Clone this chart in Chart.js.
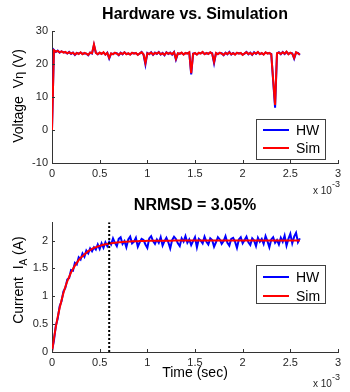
<!DOCTYPE html>
<html><head><meta charset="utf-8">
<script src="https://cdn.jsdelivr.net/npm/chart.js@4.4.1/dist/chart.umd.min.js"></script>
<style>
html,body{margin:0;padding:0;background:#fff;}
#wrap{position:relative;width:350px;height:392px;overflow:hidden;background:#fff;}
canvas{position:absolute;left:0;}
#c1{top:0;}
#c2{top:190px;}
</style></head><body>
<div id="wrap"><canvas id="c1" width="350" height="200"></canvas><canvas id="c2" width="350" height="202"></canvas></div>
<script>
// ---------- data (time in units of 1e-3 s) ----------
const timeMs = [
0,0.02,0.04,0.06,0.08,0.1,0.12,0.14,0.16,0.18,
0.2,0.22,0.24,0.26,0.28,0.3,0.32,0.34,0.36,0.38,
0.4,0.42,0.44,0.46,0.48,0.5,0.52,0.54,0.56,0.58,
0.6,0.62,0.64,0.66,0.68,0.7,0.72,0.74,0.76,0.78,
0.8,0.82,0.84,0.86,0.88,0.9,0.92,0.94,0.96,0.98,
1.0,1.02,1.04,1.06,1.08,1.1,1.12,1.14,1.16,1.18,
1.2,1.22,1.24,1.26,1.28,1.3,1.32,1.34,1.36,1.38,
1.4,1.42,1.44,1.46,1.48,1.5,1.52,1.54,1.56,1.58,
1.6,1.62,1.64,1.66,1.68,1.7,1.72,1.74,1.76,1.78,
1.8,1.82,1.84,1.86,1.88,1.9,1.92,1.94,1.96,1.98,
2.0,2.02,2.04,2.06,2.08,2.1,2.12,2.14,2.16,2.18,
2.2,2.22,2.24,2.26,2.28,2.3,2.32,2.34,2.36,2.38,
2.4,2.42,2.44,2.46,2.48,2.5,2.52,2.54,2.56,2.58,
2.6];

const voltageSim = [0,
24.2,23.8,24.0,23.6,23.9, 23.5,23.7,23.3,23.6,23.2, 23.5,22.9,23.4,23.1,23.6, 23.0,23.4,23.2,22.8,23.5,
23.3,26.0,23.4,23.0,23.5, 23.1,23.6,22.9,23.4,21.9, 23.3,23.0,23.5,23.2,22.8, 23.4,23.1,23.6,23.0,23.3,
22.9,23.5,23.2,23.4,22.8, 23.3,23.6,23.0,20.4,23.3, 23.1,23.5,22.9,23.4,23.2, 23.6,23.0,23.3,22.8,23.5,
23.2,23.4,23.0,23.6,21.6, 23.3,23.1,23.5,22.9,23.4, 23.2,23.6,17.3,23.1,23.4, 22.9,23.5,23.2,23.7,23.0,
23.4,23.1,23.6,23.2,20.7, 23.4,23.0,23.5,23.2,22.8, 23.4,23.1,23.6,23.0,23.3, 22.9,23.5,23.2,23.4,22.8,
23.3,23.6,23.1,23.4,22.9, 23.5,23.2,23.7,23.0,23.4, 22.9,23.6,23.2,23.4,23.0, 15.2,7.6,23.3,23.5,23.1,
23.6,23.2,23.8,23.0,23.5, 23.2,21.9,23.6,23.3,22.9];

const voltageHW = [0,
24.3,23.7,24.1,23.5,23.9, 23.6,23.6,23.2,23.7,23.1, 23.5,22.8,23.4,23.2,23.5, 23.1,23.3,23.2,22.7,23.5,
23.2,25.8,23.5,23.0,23.4, 23.2,23.5,22.9,23.5,21.7, 23.2,23.1,23.4,23.3,22.7, 23.5,23.0,23.6,23.1,23.2,
23.0,23.4,23.3,23.3,22.9, 23.2,23.7,22.9,19.9,23.4, 23.0,23.6,22.8,23.5,23.1, 23.7,22.9,23.4,22.7,23.6,
23.1,23.5,22.9,23.7,21.4, 23.2,23.2,23.4,23.0,23.3, 23.3,23.5,16.9,23.2,23.3, 23.0,23.4,23.3,23.6,23.1,
23.3,23.2,23.5,23.3,20.3, 23.3,23.1,23.4,23.3,22.7, 23.5,23.0,23.7,22.9,23.4, 23.0,23.4,23.3,23.3,22.9,
23.2,23.7,23.0,23.5,22.8, 23.6,23.1,23.6,23.1,23.3, 23.0,23.5,23.3,23.3,23.1, 14.8,6.8,23.2,23.6,23.0,
23.7,23.1,23.7,23.1,23.4, 23.3,21.7,23.5,23.4,22.8];

const currentSim = [
0,0.24,0.45,0.63,0.79,0.93,1.06,1.17,1.27,1.35,
1.43,1.49,1.55,1.60,1.65,1.69,1.72,1.75,1.78,1.81,
1.83,1.85,1.87,1.88,1.895,1.905,1.915,1.925,1.935,1.94,
1.946,1.952,1.957,1.961,1.965,1.969,1.972,1.975,1.978,1.980,
1.982,1.984,1.986,1.987,1.989,1.990,1.991,1.992,1.993,1.994,
1.995,1.995,1.996,1.996,1.997,1.997,1.997,1.998,1.998,1.998,
1.998,1.999,1.999,1.999,2,2,2,2,2,2,
2,2,2,2,2,2,2,2,2,2,
2,2,2,2,2,2,2,2,2,2,
2,2,2,2,2,2,2,2,2,2,
2,2,2,2,2,2,2,2,2,2,
2,2,2,2,2,2,2,2,2,2,
2,2,2,2,2,2,2,2,2,2,
2];

const currentHW = [
0.02,0.20,0.47,0.60,0.82,0.91,1.09,1.15,1.30,1.33,
1.47,1.46,1.60,1.57,1.70,1.66,1.77,1.71,1.82,1.77,
1.86,1.81,1.88,1.84,1.93,1.85,1.95,1.87,1.97,1.90,
1.98,1.93,2.04,1.96,1.90,2.03,2.06,1.94,1.99,1.88,
2.02,2.07,1.95,1.98,2.05,1.89,1.97,2.03,2.01,1.93,
1.87,2.04,2.08,1.99,1.94,2.02,1.96,2.06,1.91,1.99,
2.05,1.97,1.86,2.01,2.07,2.03,1.95,1.90,2.04,1.98,
2.08,1.96,2.02,1.92,1.99,2.06,1.88,2.03,2.00,1.95,
2.07,1.98,1.93,2.04,2.01,1.89,1.97,2.06,2.02,1.94,
1.99,2.08,1.96,1.91,2.03,2.05,1.98,1.87,2.02,2.06,
1.95,2.01,2.07,1.97,1.92,2.04,2.00,1.90,2.05,1.98,
2.03,1.94,2.08,1.99,1.88,2.02,2.06,1.96,2.01,1.93,
2.05,1.98,2.09,1.91,2.03,2.12,1.95,2.07,2.14,1.97,
2.04];

const markerX = [0.6, 0.6];
const markerY = [0, 2.33];

const xTicks = [0, 0.5, 1, 1.5, 2, 2.5, 3];
const vTicks = [-10, 0, 10, 20, 30];
const iTicks = [0, 0.5, 1, 1.5, 2];

const seriesNames = ['HW', 'Sim'];
const titleTop = 'Hardware vs. Simulation';
const titleBottom = 'NRMSD = 3.05%';

// ---------- helpers ----------
const FONT = "'Liberation Sans', Arial, Helvetica, sans-serif";
const AXIS = '#333333';
const TXT = '#262626';
const pts = (xs, ys) => xs.map((x, i) => ({x: x, y: ys[i]}));

const deco = {
  id: 'deco',
  afterDraw(chart, args, o) {
    const ctx = chart.ctx, ca = chart.chartArea;
    const xs = chart.scales.x, ys = chart.scales.y;
    ctx.save();
    // inward ticks (MATLAB style)
    ctx.strokeStyle = AXIS; ctx.lineWidth = 1;
    ctx.beginPath();
    xs.ticks.forEach(t => {
      const p = Math.round(xs.getPixelForValue(t.value)) + 0.5;
      ctx.moveTo(p, ca.bottom); ctx.lineTo(p, ca.bottom - 3);
    });
    ys.ticks.forEach(t => {
      const p = Math.round(ys.getPixelForValue(t.value)) + 0.5;
      ctx.moveTo(ca.left, p); ctx.lineTo(ca.left + 3, p);
    });
    ctx.stroke();

    // y-axis title with sub/superscript parts
    ctx.save();
    ctx.translate(o.yTitleX, o.yTitleY);
    ctx.rotate(-Math.PI / 2);
    ctx.fillStyle = '#000';
    ctx.textBaseline = 'alphabetic';
    let total = 0;
    o.yParts.forEach(p => { ctx.font = p.size + 'px ' + FONT; p.w = ctx.measureText(p.t).width; total += p.w; });
    let cx = -total / 2;
    o.yParts.forEach(p => { ctx.font = p.size + 'px ' + FONT; ctx.fillText(p.t, cx, p.dy || 0); cx += p.w; });
    ctx.restore();

    // exponent label  x 10^-3
    ctx.fillStyle = TXT;
    ctx.textBaseline = 'alphabetic';
    ctx.font = '10px ' + FONT;
    ctx.fillText('x 10', o.expX, o.expY);
    const w = ctx.measureText('x 10').width;
    ctx.font = '9px ' + FONT;
    ctx.fillText('-3', o.expX + w, o.expY - 7);

    // legend box inside axes
    const L = o.legend;
    ctx.fillStyle = '#fff';
    ctx.fillRect(L.x, L.y, L.w, L.h);
    ctx.strokeStyle = '#404040'; ctx.lineWidth = 1;
    ctx.strokeRect(L.x + 0.5, L.y + 0.5, L.w, L.h);
    ctx.font = '14px ' + FONT;
    ctx.textBaseline = 'middle';
    seriesNames.forEach((name, i) => {
      const ds = chart.data.datasets.find(d => d.label === name);
      const yy = L.y + L.row0 + i * L.gap;
      ctx.strokeStyle = ds.borderColor; ctx.lineWidth = 2;
      ctx.beginPath(); ctx.moveTo(L.x + 7, yy); ctx.lineTo(L.x + 33, yy); ctx.stroke();
      ctx.fillStyle = '#000';
      ctx.fillText(name, L.x + 40, yy + 1);
    });
    ctx.restore();
  }
};

function makeChart(id, cfg) {
  const yTicksList = cfg.yTicks;
  return new Chart(document.getElementById(id), {
    type: 'line',
    data: { datasets: cfg.datasets },
    plugins: [deco],
    options: {
      responsive: false,
      animation: false,
      devicePixelRatio: 1,
      layout: { padding: { left: 0, right: 12, top: 0, bottom: 0 } },
      elements: { point: { radius: 0 }, line: { tension: 0 } },
      plugins: {
        legend: { display: false },
        tooltip: { enabled: false },
        title: {
          display: true, text: cfg.title, fullSize: false, color: '#000',
          font: { family: FONT, size: 16, weight: 'bold', lineHeight: 1.2 },
          padding: cfg.titlePad
        },
        deco: cfg.deco
      },
      scales: {
        x: {
          type: 'linear', min: 0, max: 3,
          afterBuildTicks: s => { s.ticks = xTicks.map(v => ({value: v})); },
          afterFit: s => { s.height = cfg.xHeight; },
          grid: { display: true, drawOnChartArea: false, drawTicks: false },
          border: { display: true, color: AXIS, width: 1 },
          ticks: { color: TXT, padding: 4, maxRotation: 0, font: { family: FONT, size: 11 },
                   callback: v => String(v) },
          title: cfg.xTitle
        },
        y: {
          type: 'linear', min: cfg.yMin, max: cfg.yMax,
          afterBuildTicks: s => { s.ticks = yTicksList.map(v => ({value: v})); },
          afterFit: s => { s.width = 52; },
          grid: { display: true, drawOnChartArea: false, drawTicks: false },
          border: { display: true, color: AXIS, width: 1 },
          ticks: { color: TXT, padding: 4, font: { family: FONT, size: 11 }, callback: v => String(v) }
        }
      }
    }
  });
}

makeChart('c1', {
  title: titleTop,
  titlePad: { top: 5, bottom: 7 },
  xHeight: 37,
  yMin: -10, yMax: 30, yTicks: vTicks,
  xTitle: { display: false },
  datasets: [
    { label: 'HW', data: pts(timeMs, voltageHW), borderColor: '#0000ff', borderWidth: 2, order: 2 },
    { label: 'Sim', data: pts(timeMs, voltageSim), borderColor: '#ff0000', borderWidth: 2, order: 1 }
  ],
  deco: {
    yTitleX: 23, yTitleY: 96,
    yParts: [ {t: 'Voltage  V', size: 14}, {t: 'η', size: 13, dy: 0}, {t: ' (V)', size: 14} ],
    expX: 313, expY: 194,
    legend: { x: 256, y: 119, w: 69, h: 40, row0: 11, gap: 18 }
  }
});

makeChart('c2', {
  title: titleBottom,
  titlePad: { top: 6, bottom: 7 },
  xHeight: 40,
  yMin: 0, yMax: 2.33, yTicks: iTicks,
  xTitle: { display: true, text: 'Time (sec)', color: '#000', font: { family: FONT, size: 14, lineHeight: 1.2 },
            padding: { top: 0, bottom: 10 } },
  datasets: [
    { label: 'marker', data: pts(markerX, markerY), borderColor: '#000', borderWidth: 2, borderDash: [2, 2], order: 0 },
    { label: 'HW', data: pts(timeMs, currentHW), borderColor: '#0000ff', borderWidth: 2, order: 2 },
    { label: 'Sim', data: pts(timeMs, currentSim), borderColor: '#ff0000', borderWidth: 2, order: 1 }
  ],
  deco: {
    yTitleX: 23, yTitleY: 90,
    yParts: [ {t: 'Current  I', size: 14}, {t: 'A', size: 10, dy: 4}, {t: ' (A)', size: 14} ],
    expX: 313, expY: 197,
    legend: { x: 256, y: 75, w: 69, h: 38, row0: 12, gap: 19 }
  }
});
</script>
</body></html>
